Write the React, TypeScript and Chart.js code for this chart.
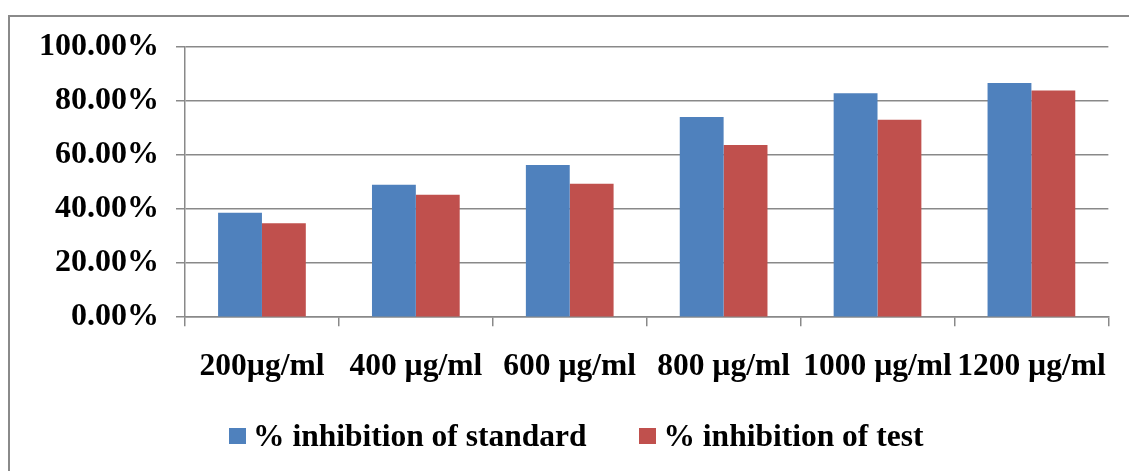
import React, { useEffect, useRef } from "react";
import { Chart, registerables } from "chart.js";

Chart.register(...registerables);

const categories = ["200µg/ml", "400 µg/ml", "600 µg/ml", "800 µg/ml", "1000 µg/ml", "1200 µg/ml"];
const standardValues = [38.7, 49.0, 56.3, 74.1, 82.9, 86.7];
const testValues = [34.8, 45.3, 49.4, 63.7, 73.1, 83.9];
const seriesNames = ["% inhibition of standard", "% inhibition of test"];
const seriesColors = ["#4F81BD", "#C0504D"];

const FONT = "'Liberation Serif', 'Times New Roman', serif";
const GRID = "#898989";

export default function App() {
  const ref = useRef<HTMLCanvasElement | null>(null);

  useEffect(() => {
    document.body.style.margin = "0";
    const ctx = ref.current;
    if (!ctx) return;
    const chart = new Chart(ctx, {
      type: "bar",
      data: {
        labels: categories,
        datasets: [
          { label: seriesNames[0], data: standardValues, backgroundColor: seriesColors[0], borderWidth: 0 },
          { label: seriesNames[1], data: testValues, backgroundColor: seriesColors[1], borderWidth: 0 },
        ],
      },
      options: {
        responsive: false,
        animation: false,
        devicePixelRatio: 1,
        layout: { padding: { left: 22, top: 47, right: 16, bottom: 15 } },
        plugins: { legend: { display: false }, tooltip: { enabled: false } },
        datasets: { bar: { barPercentage: 1, categoryPercentage: 0.57 } },
        scales: {
          x: {
            grid: { display: true, drawOnChartArea: false, drawTicks: true, tickLength: 9, color: GRID, lineWidth: 1.5, offset: true },
            border: { display: true, color: GRID, width: 1.5 },
            ticks: { color: "#000", font: { family: FONT, size: 31.5, weight: "bold" }, padding: 22, maxRotation: 0, autoSkip: false },
          },
          y: {
            min: 0,
            max: 100,
            grid: { color: GRID, lineWidth: 1.5, tickLength: 9, drawTicks: true },
            border: { display: true, color: GRID, width: 1.5 },
            ticks: {
              stepSize: 20,
              color: "#000",
              padding: 17,
              font: { family: FONT, size: 32, weight: "bold" },
              callback: (v: any) => Number(v).toFixed(2) + "%",
            },
          },
        },
      },
    });
    return () => chart.destroy();
  }, []);

  return (
    <div style={{ position: "fixed", left: 0, top: 0, width: 1129, height: 471, background: "#fff", overflow: "hidden" }}>
      <div
        style={{
          position: "absolute",
          left: 8,
          top: 15,
          width: 1200,
          height: 500,
          borderLeft: "2px solid #8a8a8a",
          borderTop: "2px solid #8a8a8a",
        }}
      />
      <canvas ref={ref} width={1129} height={423} style={{ position: "absolute", left: 0, top: 0 }} />
      <div
        style={{
          position: "absolute",
          left: 229,
          top: 417,
          display: "flex",
          alignItems: "center",
          fontFamily: FONT,
          fontWeight: "bold",
          fontSize: 31.5,
          lineHeight: "38px",
          color: "#000",
          whiteSpace: "nowrap",
        }}
      >
        {seriesNames.map((n, i) => (
          <div key={n} style={{ display: "flex", alignItems: "center", marginRight: i === 0 ? 53 : 0 }}>
            <span style={{ display: "inline-block", width: 17, height: 16, background: seriesColors[i], marginRight: 7 }} />
            <span>{n}</span>
          </div>
        ))}
      </div>
    </div>
  );
}
